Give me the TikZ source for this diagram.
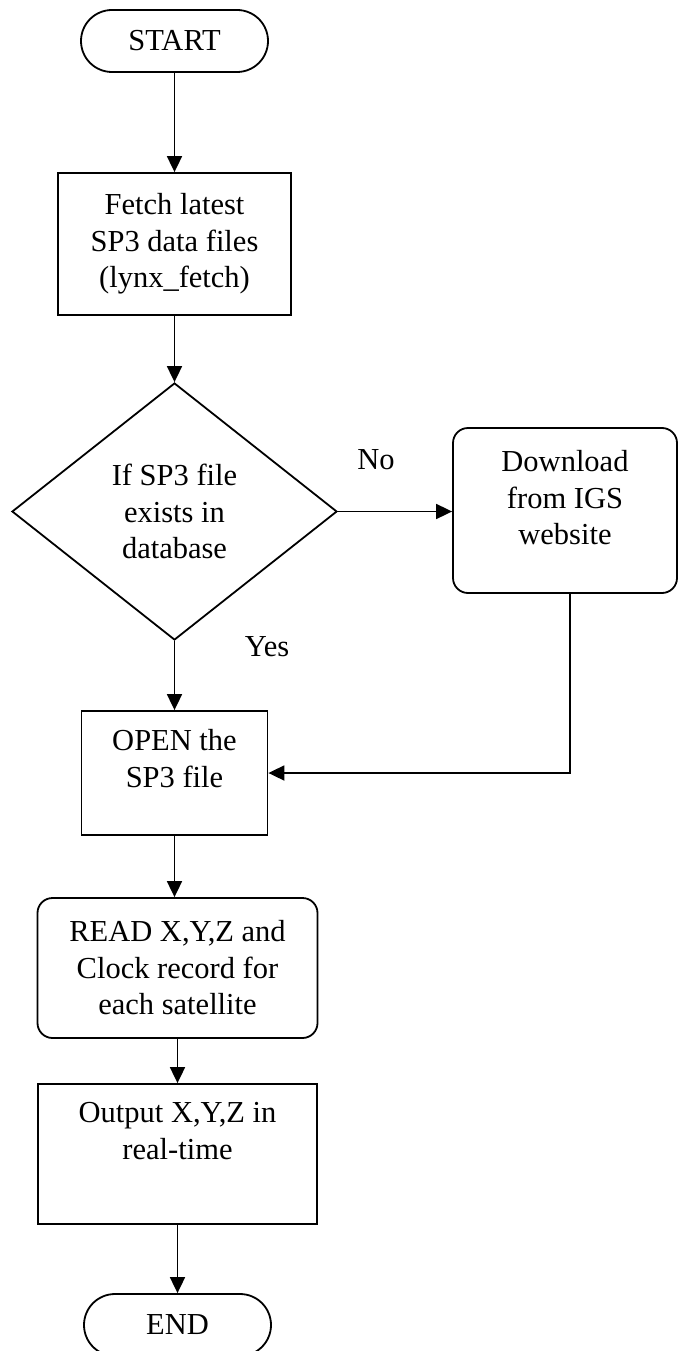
\documentclass[tikz,border=0pt]{standalone}
\usepackage{fontspec}
\setmainfont{Liberation Serif}
\usetikzlibrary{arrows.meta,shapes.geometric}
\begin{document}
\begin{tikzpicture}[x=1pt,y=-1pt,line width=1.8pt,
  every node/.style={font=\fontsize{30.5}{36.5}\selectfont,align=center},
  term/.style={draw,rectangle,rounded corners=31pt,minimum width=187pt,minimum height=62pt,inner sep=0pt},
  proc/.style={draw,rectangle,inner sep=0pt},
  rproc/.style={draw,rectangle,rounded corners=15pt,inner sep=0pt},
  decision/.style={draw,diamond,inner sep=0pt},
  arr/.style={-{Triangle[length=16pt,width=15pt]}},
  lbl/.style={inner sep=0pt}]
\useasboundingbox (0,0) rectangle (679,1351);

% main column
\node[term] (start) at (174.5,41) {START};
\node[proc,minimum width=233pt,minimum height=142pt] (fetch) at (174.5,244)
  {Fetch latest\\SP3 data files\\(lynx\_fetch)};
\node[decision,minimum width=325pt,minimum height=257pt] (dec) at (174.5,511.5) {};
\node[lbl] (dectext) at (dec.center) {If SP3 file\\exists in\\database};
\node[proc,minimum width=186pt,minimum height=124pt] (open) at (174.5,773) {};
\node[lbl] (opentext) at (174.5,758.5) {OPEN the\\SP3 file};
\node[rproc,minimum width=280pt,minimum height=140pt] (read) at (177.5,968)
  {READ X,Y,Z and\\Clock record for\\each satellite};
\node[proc,minimum width=279pt,minimum height=140pt] (out) at (177.5,1154) {};
\node[lbl] (outtext) at (177.5,1131) {Output X,Y,Z in\\real-time};
\node[term] (end) at (177.5,1325) {END};

% side branch
\node[rproc,minimum width=224pt,minimum height=165pt] (dl) at (565,510.5) {};
\node[lbl] (dltext) at (565,498) {Download\\from IGS\\website};

% branch labels
\node[lbl] (no) at (376,460) {No};
\node[lbl] (yes) at (267,647) {Yes};

% connectors
\draw[arr] (start.south) -- (fetch.north);
\draw[arr] (fetch.south) -- (dec.north);
\draw[arr] (dec.east) -- (dec.east -| dl.west);
\draw[arr] (dec.south) -- (open.north);
\draw[arr] ([xshift=5pt]dl.south) |- (open.east);
\draw[arr] (open.south) -- (open.south |- read.north);
\draw[arr] (read.south) -- (out.north);
\draw[arr] (out.south) -- (end.north);
\end{tikzpicture}
\end{document}
